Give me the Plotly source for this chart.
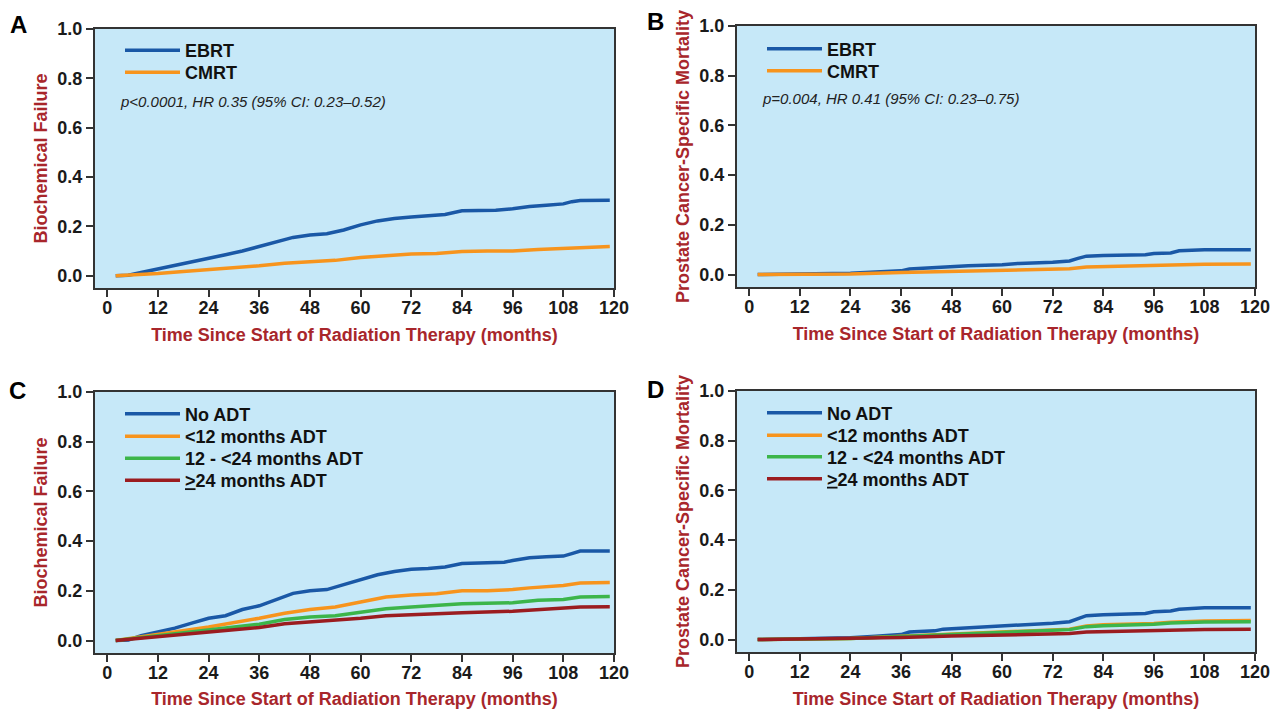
import plotly.graph_objects as go
from plotly.subplots import make_subplots

# ---------------- data ----------------
months_A = [2, 5, 8, 12, 16, 20, 24, 28, 32, 36, 40, 44, 48, 52, 56, 60, 64, 68, 72, 76, 80, 84, 88, 92, 96, 100, 104, 108, 110, 112, 119]
ebrt_bf = [0, 0.002, 0.013, 0.027, 0.04, 0.055, 0.07, 0.085, 0.1, 0.118, 0.135, 0.155, 0.165, 0.17, 0.185, 0.206, 0.222, 0.232, 0.238, 0.242, 0.248, 0.263, 0.265, 0.265, 0.271, 0.28, 0.285, 0.291, 0.3, 0.305, 0.306]
months_A2 = [2, 6, 12, 18, 24, 30, 36, 42, 48, 54, 60, 66, 72, 78, 84, 90, 96, 102, 108, 112, 119]
cmrt_bf = [0, 0.003, 0.009, 0.017, 0.024, 0.032, 0.04, 0.05, 0.057, 0.062, 0.074, 0.082, 0.088, 0.09, 0.098, 0.1, 0.1, 0.106, 0.11, 0.115, 0.118]

months_B = [2, 12, 24, 30, 36, 38, 44, 46, 52, 60, 64, 72, 76, 78, 80, 84, 90, 94, 96, 100, 102, 108, 119]
ebrt_pcsm = [0, 0.001, 0.005, 0.01, 0.015, 0.022, 0.027, 0.032, 0.035, 0.04, 0.045, 0.05, 0.055, 0.065, 0.074, 0.077, 0.079, 0.08, 0.085, 0.087, 0.096, 0.1, 0.1]
months_B2 = [2, 24, 36, 48, 60, 72, 76, 80, 84, 96, 100, 108, 119]
cmrt_pcsm = [0, 0.002, 0.008, 0.013, 0.016, 0.02, 0.023, 0.03, 0.032, 0.037, 0.04, 0.042, 0.043]

months_C = [2, 5, 8, 12, 16, 20, 24, 28, 32, 36, 40, 44, 48, 52, 56, 60, 64, 68, 72, 76, 80, 84, 90, 94, 96, 100, 104, 108, 110, 112, 119]
noadt_bf = [0, 0.002, 0.02, 0.035, 0.05, 0.07, 0.09, 0.1, 0.125, 0.14, 0.165, 0.19, 0.2, 0.205, 0.225, 0.245, 0.265, 0.278, 0.287, 0.29, 0.296, 0.31, 0.315, 0.315, 0.322, 0.333, 0.337, 0.34, 0.35, 0.36, 0.36]
months_C2 = [2, 12, 24, 36, 42, 48, 54, 60, 66, 72, 78, 84, 90, 96, 100, 108, 112, 119]
lt12_bf = [0, 0.025, 0.055, 0.09, 0.11, 0.125, 0.135, 0.155, 0.175, 0.183, 0.188, 0.2, 0.2, 0.205, 0.212, 0.222, 0.232, 0.234]
months_C3 = [2, 12, 24, 36, 42, 48, 54, 60, 66, 72, 78, 84, 96, 102, 108, 112, 119]
m12to24_bf = [0, 0.02, 0.043, 0.066, 0.085, 0.095, 0.1, 0.115, 0.128, 0.135, 0.14, 0.148, 0.152, 0.162, 0.165, 0.175, 0.177]
months_C4 = [2, 12, 24, 36, 42, 48, 54, 60, 66, 72, 84, 96, 104, 108, 112, 119]
ge24_bf = [0, 0.015, 0.035, 0.053, 0.068, 0.075, 0.08, 0.09, 0.1, 0.105, 0.112, 0.118, 0.125, 0.128, 0.135, 0.136]

months_D = [2, 12, 24, 30, 36, 38, 44, 46, 52, 60, 66, 72, 76, 78, 80, 84, 90, 94, 96, 100, 102, 108, 119]
noadt_pcsm = [0, 0.002, 0.007, 0.013, 0.02, 0.03, 0.035, 0.042, 0.047, 0.053, 0.06, 0.066, 0.072, 0.085, 0.096, 0.1, 0.103, 0.105, 0.112, 0.115, 0.122, 0.128, 0.128]
months_D2 = [2, 24, 36, 48, 60, 72, 76, 80, 84, 96, 100, 108, 119]
lt12_pcsm = [0, 0.004, 0.013, 0.022, 0.03, 0.038, 0.042, 0.055, 0.06, 0.065, 0.07, 0.075, 0.077]
m12to24_pcsm = [0, 0.004, 0.012, 0.02, 0.028, 0.035, 0.04, 0.052, 0.056, 0.062, 0.067, 0.071, 0.072]
ge24_pcsm = [0, 0.003, 0.008, 0.014, 0.017, 0.021, 0.024, 0.03, 0.032, 0.035, 0.038, 0.041, 0.042]

x_ticks = [0, 12, 24, 36, 48, 60, 72, 84, 96, 108, 120]
y_ticks = [0.0, 0.2, 0.4, 0.6, 0.8, 1.0]

rt_names = ["EBRT", "CMRT"]
adt_names = ["No ADT", "<12 months ADT", "12 - <24 months ADT", "<u>></u>24 months ADT"]
panel_letters = ["A", "B", "C", "D"]
stats_text = ["<i>p<0.0001, HR 0.35 (95% CI: 0.23–0.52)</i>", "<i>p=0.004, HR 0.41 (95% CI: 0.23–0.75)</i>"]
x_title = "Time Since Start of Radiation Therapy (months)"
y_titles = ["Biochemical Failure", "Prostate Cancer-Specific Mortality"]

# ---------------- style ----------------
FONT = "Liberation Sans, Arial, Helvetica, sans-serif"
BLUE = "#1a58a6"
ORANGE = "#f7941d"
GREEN = "#3cb54a"
DRED = "#9b1c20"
RED = "#a8262b"
BG = "#c6e8f8"
W, H = 1282, 709

fig = make_subplots(rows=2, cols=2)

# box positions in pixels (left, right, top, bottom)
boxes = {
    (1, 1): (95, 614, 29, 288),
    (1, 2): (737, 1255, 26, 287),
    (2, 1): (95, 614, 392, 653),
    (2, 2): (737, 1255, 391, 652),
}
# legend row centres (px) per panel
legend_rows = {
    (1, 1): [50.5, 72.5],
    (1, 2): [49, 71],
    (2, 1): [414, 436.5, 458.5, 480.5],
    (2, 2): [413, 435.5, 457, 479],
}
ITEMW = 55

legend_layout = {}
counter = [0]

def add(x, y, name, color, row, col, idx):
    counter[0] += 1
    lname = "legend" if counter[0] == 1 else "legend%d" % counter[0]
    l = boxes[(row, col)][0]
    yc = legend_rows[(row, col)][idx]
    legend_layout[lname] = dict(
        x=(l + 90 - ITEMW - 10) / W, y=1 - yc / H, xanchor="left", yanchor="middle",
        bgcolor="rgba(0,0,0,0)", itemwidth=ITEMW,
        font=dict(family=FONT, size=18, color="#111", weight="bold"))
    fig.add_trace(go.Scatter(x=x, y=y, name=name, mode="lines",
                             line=dict(color=color, width=3.5),
                             legend=lname, hoverinfo="x+y+name"),
                  row=row, col=col)

add(months_A, ebrt_bf, rt_names[0], BLUE, 1, 1, 0)
add(months_A2, cmrt_bf, rt_names[1], ORANGE, 1, 1, 1)
add(months_B, ebrt_pcsm, rt_names[0], BLUE, 1, 2, 0)
add(months_B2, cmrt_pcsm, rt_names[1], ORANGE, 1, 2, 1)
add(months_C, noadt_bf, adt_names[0], BLUE, 2, 1, 0)
add(months_C2, lt12_bf, adt_names[1], ORANGE, 2, 1, 1)
add(months_C3, m12to24_bf, adt_names[2], GREEN, 2, 1, 2)
add(months_C4, ge24_bf, adt_names[3], DRED, 2, 1, 3)
add(months_D, noadt_pcsm, adt_names[0], BLUE, 2, 2, 0)
add(months_D2, lt12_pcsm, adt_names[1], ORANGE, 2, 2, 1)
add(months_D2, m12to24_pcsm, adt_names[2], GREEN, 2, 2, 2)
add(months_D2, ge24_pcsm, adt_names[3], DRED, 2, 2, 3)

fig.update_layout(**legend_layout)

for (r, c), (l, rr, t, b) in boxes.items():
    fig.update_xaxes(domain=[l / W, rr / W], range=[-2.9, 120],
                     tickvals=x_ticks, ticks="outside", ticklen=7, tickwidth=1.5,
                     tickcolor="#333", showline=True, linewidth=2, linecolor="#333",
                     mirror=True, showgrid=False, zeroline=False, ticklabelstandoff=-5,
                     tickfont=dict(family=FONT, size=18, color="#1a1a1a", weight="bold"),
                     title=dict(text=x_title, standoff=12,
                                font=dict(family=FONT, size=18, color=RED, weight="bold")),
                     automargin=False, row=r, col=c)
    fig.update_yaxes(domain=[1 - b / H, 1 - t / H], range=[-0.05, 1.0],
                     tickvals=y_ticks, tickformat=".1f", ticks="outside", ticklen=7,
                     tickwidth=1.5, tickcolor="#333", showline=True, linewidth=2,
                     linecolor="#333", mirror=True, showgrid=False, zeroline=False,
                     tickfont=dict(family=FONT, size=18, color="#1a1a1a", weight="bold"),
                     title=dict(text=y_titles[c - 1], standoff=5,
                                font=dict(family=FONT, size=18, color=RED, weight="bold")),
                     automargin=False, row=r, col=c)

# stats annotations
fig.add_annotation(text=stats_text[0], xref="x domain", yref="y domain",
                   x=23 / 519, y=(288 - 101) / 259, xanchor="left", yanchor="middle",
                   showarrow=False, font=dict(family=FONT, size=15, color="#222"))
fig.add_annotation(text=stats_text[1], xref="x2 domain", yref="y2 domain",
                   x=23 / 518, y=(287 - 99) / 261, xanchor="left", yanchor="middle",
                   showarrow=False, font=dict(family=FONT, size=15, color="#222"))

# panel letters
letter_pos = [(18, 25), (655, 22), (17, 390), (655, 389)]
for letter, (px, py) in zip(panel_letters, letter_pos):
    fig.add_annotation(text=letter, xref="paper", yref="paper",
                       x=px / W, y=1 - py / H, xanchor="center", yanchor="middle",
                       showarrow=False,
                       font=dict(family=FONT, size=24, color="#000", weight="bold"))

fig.update_layout(width=W, height=H, margin=dict(l=0, r=0, t=0, b=0),
                  paper_bgcolor="white", plot_bgcolor=BG, showlegend=True,
                  font=dict(family=FONT))

fig.write_html("out.html", config={"displayModeBar": False},
               post_script="document.body.style.margin='0px';")
